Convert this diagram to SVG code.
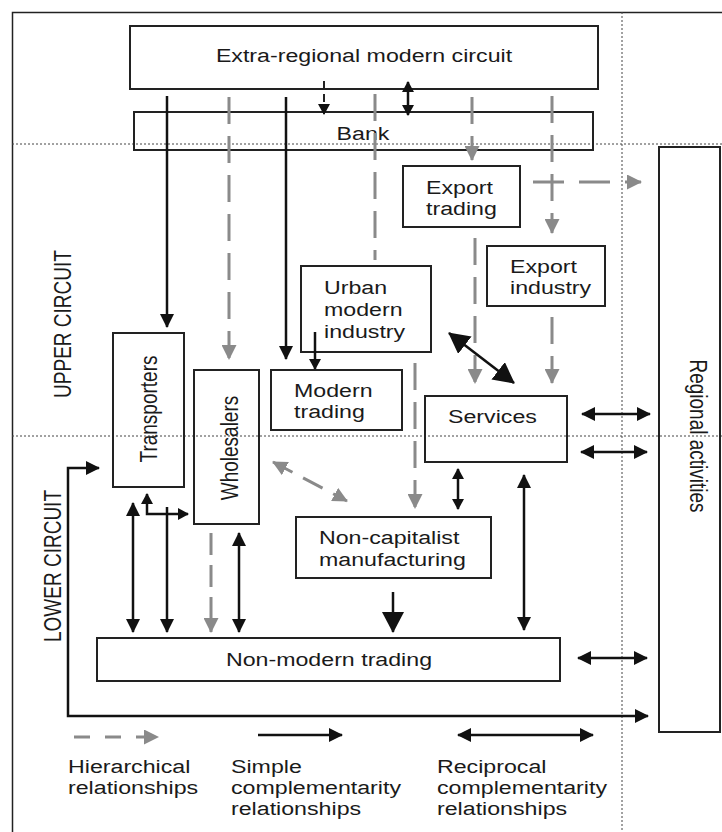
<svg xmlns="http://www.w3.org/2000/svg" width="722" height="832" viewBox="0 0 722 832">
<style>
.box{fill:none;stroke:#222;stroke-width:2}
.t{font-family:"Liberation Sans",Arial,Helvetica,sans-serif;font-size:19px;fill:#1a1a1a}
.sol{stroke:#111;stroke-width:2.5;fill:none}
.gd{stroke:#8a8a8a;stroke-width:3;fill:none;stroke-dasharray:27 12}
.dot{stroke:#444;stroke-width:1;stroke-dasharray:2 2;fill:none}
</style>
<defs>
<marker id="ab" markerUnits="userSpaceOnUse" markerWidth="15" markerHeight="15" refX="13" refY="7" orient="auto-start-reverse" viewBox="0 0 15 14"><path d="M0,0 L14,7 L0,14 z" fill="#111"/></marker>
<marker id="abs" markerUnits="userSpaceOnUse" markerWidth="12" markerHeight="12" refX="10" refY="6" orient="auto-start-reverse" viewBox="0 0 12 12"><path d="M0,0 L11,6 L0,12 z" fill="#111"/></marker>
<marker id="abb" markerUnits="userSpaceOnUse" markerWidth="22" markerHeight="22" refX="20" refY="11" orient="auto-start-reverse" viewBox="0 0 22 22"><path d="M0,0 L21,11 L0,22 z" fill="#111"/></marker>
<marker id="ag" markerUnits="userSpaceOnUse" markerWidth="16" markerHeight="15" refX="14" refY="7.5" orient="auto-start-reverse" viewBox="0 0 16 15"><path d="M0,0 L15,7.5 L0,15 z" fill="#8a8a8a"/></marker>
</defs>

<!-- frame and divider lines -->
<path d="M12.5,840 V12.5 H730" fill="none" stroke="#222" stroke-width="1.5"/>
<line class="dot" x1="12" y1="144" x2="722" y2="144"/>
<line class="dot" x1="12" y1="436" x2="722" y2="436"/>
<line class="dot" x1="622" y1="12" x2="622" y2="832"/>

<g id="extra-regional">
<rect class="box" x="130" y="26" width="468" height="63"/>
<text class="t" text-anchor="middle" transform="translate(364,62) scale(1.22,1)">Extra-regional modern circuit</text>
</g>
<g id="bank">
<rect class="box" x="134" y="112" width="459" height="38"/>
<text class="t" text-anchor="middle" transform="translate(363,140) scale(1.22,1)">Bank</text>
</g>
<g id="export-trading">
<rect class="box" x="403" y="166" width="117" height="61"/>
<text class="t" transform="translate(426,194) scale(1.22,1)"><tspan x="0" y="0">Export</tspan><tspan x="0" y="21">trading</tspan></text>
</g>
<g id="export-industry">
<rect class="box" x="487" y="246" width="118" height="60"/>
<text class="t" transform="translate(510,273) scale(1.22,1)"><tspan x="0" y="0">Export</tspan><tspan x="0" y="21">industry</tspan></text>
</g>
<g id="urban-modern-industry">
<rect class="box" x="301" y="266" width="130" height="86"/>
<text class="t" transform="translate(324,294) scale(1.22,1)"><tspan x="0" y="0">Urban</tspan><tspan x="0" y="22">modern</tspan><tspan x="0" y="44">industry</tspan></text>
</g>
<g id="modern-trading">
<rect class="box" x="271" y="370" width="131" height="60"/>
<text class="t" transform="translate(294,397) scale(1.22,1)"><tspan x="0" y="0">Modern</tspan><tspan x="0" y="21">trading</tspan></text>
</g>
<g id="transporters">
<rect class="box" x="113" y="333" width="71" height="154"/>
<text class="t" text-anchor="middle" transform="translate(157,409) scale(1.22,1) rotate(-90)">Transporters</text>
</g>
<g id="wholesalers">
<rect class="box" x="194" y="370" width="65" height="154"/>
<text class="t" text-anchor="middle" transform="translate(238,448) scale(1.22,1) rotate(-90)">Wholesalers</text>
</g>
<g id="services">
<rect class="box" x="425" y="396" width="142" height="66"/>
<text class="t" transform="translate(448,423) scale(1.22,1)">Services</text>
</g>
<g id="non-capitalist-manufacturing">
<rect class="box" x="296" y="517" width="195" height="61"/>
<text class="t" transform="translate(319,544) scale(1.22,1)"><tspan x="0" y="0">Non-capitalist</tspan><tspan x="0" y="22">manufacturing</tspan></text>
</g>
<g id="non-modern-trading">
<rect class="box" x="97" y="638" width="463" height="43"/>
<text class="t" text-anchor="middle" transform="translate(329,666) scale(1.22,1)">Non-modern trading</text>
</g>
<g id="regional-activities">
<rect class="box" x="659" y="147" width="61" height="585"/>
<text class="t" text-anchor="middle" transform="translate(690,436) scale(1.22,1) rotate(90)">Regional activities</text>
</g>
<g id="circuit-labels">
<text class="t" text-anchor="middle" transform="translate(71,324) scale(1.22,1) rotate(-90)">UPPER CIRCUIT</text>
<text class="t" text-anchor="middle" transform="translate(61,566) scale(1.22,1) rotate(-90)">LOWER CIRCUIT</text>
</g>

<g id="connectors">
<!-- from extra-regional -->
<line class="sol" x1="167" y1="96" x2="167" y2="327" marker-end="url(#ab)"/>
<line class="gd" x1="229" y1="97" x2="229" y2="359" marker-end="url(#ag)"/>
<line class="sol" x1="286" y1="97" x2="286" y2="359" marker-end="url(#ab)"/>
<line x1="324" y1="81" x2="324" y2="114" stroke="#222" stroke-width="2" stroke-dasharray="8 5" marker-end="url(#abs)"/>
<line class="sol" x1="408" y1="82" x2="408" y2="115" stroke-width="2" marker-start="url(#abs)" marker-end="url(#abs)"/>
<line class="gd" x1="375" y1="94" x2="375" y2="260"/>
<line class="gd" x1="472" y1="97" x2="472" y2="160" marker-end="url(#ag)"/>
<line class="gd" x1="552" y1="96" x2="552" y2="233" marker-end="url(#ag)"/>
<line class="gd" x1="533" y1="182" x2="641" y2="182" style="stroke-dasharray:31 15" marker-end="url(#ag)"/>
<!-- middle -->
<line class="gd" x1="475" y1="238" x2="475" y2="383" marker-end="url(#ag)"/>
<line class="gd" x1="552" y1="317" x2="552" y2="383" marker-end="url(#ag)"/>
<line class="sol" x1="449" y1="333" x2="514" y2="383" marker-start="url(#abb)" marker-end="url(#abb)"/>
<line class="sol" x1="315" y1="332" x2="315" y2="369" stroke-width="2" marker-end="url(#abs)"/>
<line class="gd" x1="415" y1="363" x2="415" y2="508" marker-end="url(#ag)"/>
<line class="sol" x1="582" y1="414" x2="650" y2="414" marker-start="url(#ab)" marker-end="url(#ab)"/>
<line class="sol" x1="581" y1="452" x2="647" y2="452" marker-start="url(#ab)" marker-end="url(#ab)"/>
<line class="sol" x1="578" y1="658" x2="647" y2="658" marker-start="url(#ab)" marker-end="url(#ab)"/>
<line class="sol" x1="458" y1="469" x2="458" y2="509" marker-start="url(#abs)" marker-end="url(#abs)"/>
<line class="sol" x1="524" y1="475" x2="524" y2="630" marker-start="url(#ab)" marker-end="url(#ab)"/>
<line class="sol" x1="393" y1="592" x2="393" y2="632" marker-end="url(#abb)"/>
<line class="gd" x1="273" y1="462" x2="347" y2="501" style="stroke-dasharray:22 12" marker-start="url(#ag)" marker-end="url(#ag)"/>
<!-- lower left -->
<line class="sol" x1="133" y1="503" x2="133" y2="632" marker-start="url(#ab)" marker-end="url(#ab)"/>
<line class="sol" x1="167" y1="507" x2="167" y2="632" marker-end="url(#ab)"/>
<polyline class="sol" points="147,494 147,514 188,514" stroke-width="2" marker-start="url(#abs)" marker-end="url(#abs)"/>
<line class="gd" x1="211" y1="533" x2="211" y2="632" style="stroke-dasharray:22 10" marker-end="url(#ag)"/>
<line class="sol" x1="239" y1="533" x2="239" y2="632" marker-start="url(#ab)" marker-end="url(#ab)"/>
<polyline class="sol" points="99,468 68,468 68,716 648,716" marker-start="url(#ab)" marker-end="url(#ab)"/>
</g>

<g id="legend">
<line class="gd" x1="74" y1="737" x2="158" y2="737" style="stroke-dasharray:16 15" marker-end="url(#ag)"/>
<line class="sol" x1="258" y1="735" x2="342" y2="735" marker-end="url(#ab)"/>
<line class="sol" x1="458" y1="735" x2="593" y2="735" marker-start="url(#ab)" marker-end="url(#ab)"/>
<text class="t" transform="translate(68,773) scale(1.22,1)"><tspan x="0" y="0">Hierarchical</tspan><tspan x="0" y="21">relationships</tspan></text>
<text class="t" transform="translate(231,773) scale(1.22,1)"><tspan x="0" y="0">Simple</tspan><tspan x="0" y="21">complementarity</tspan><tspan x="0" y="42">relationships</tspan></text>
<text class="t" transform="translate(437,773) scale(1.22,1)"><tspan x="0" y="0">Reciprocal</tspan><tspan x="0" y="21">complementarity</tspan><tspan x="0" y="42">relationships</tspan></text>
</g>
</svg>
